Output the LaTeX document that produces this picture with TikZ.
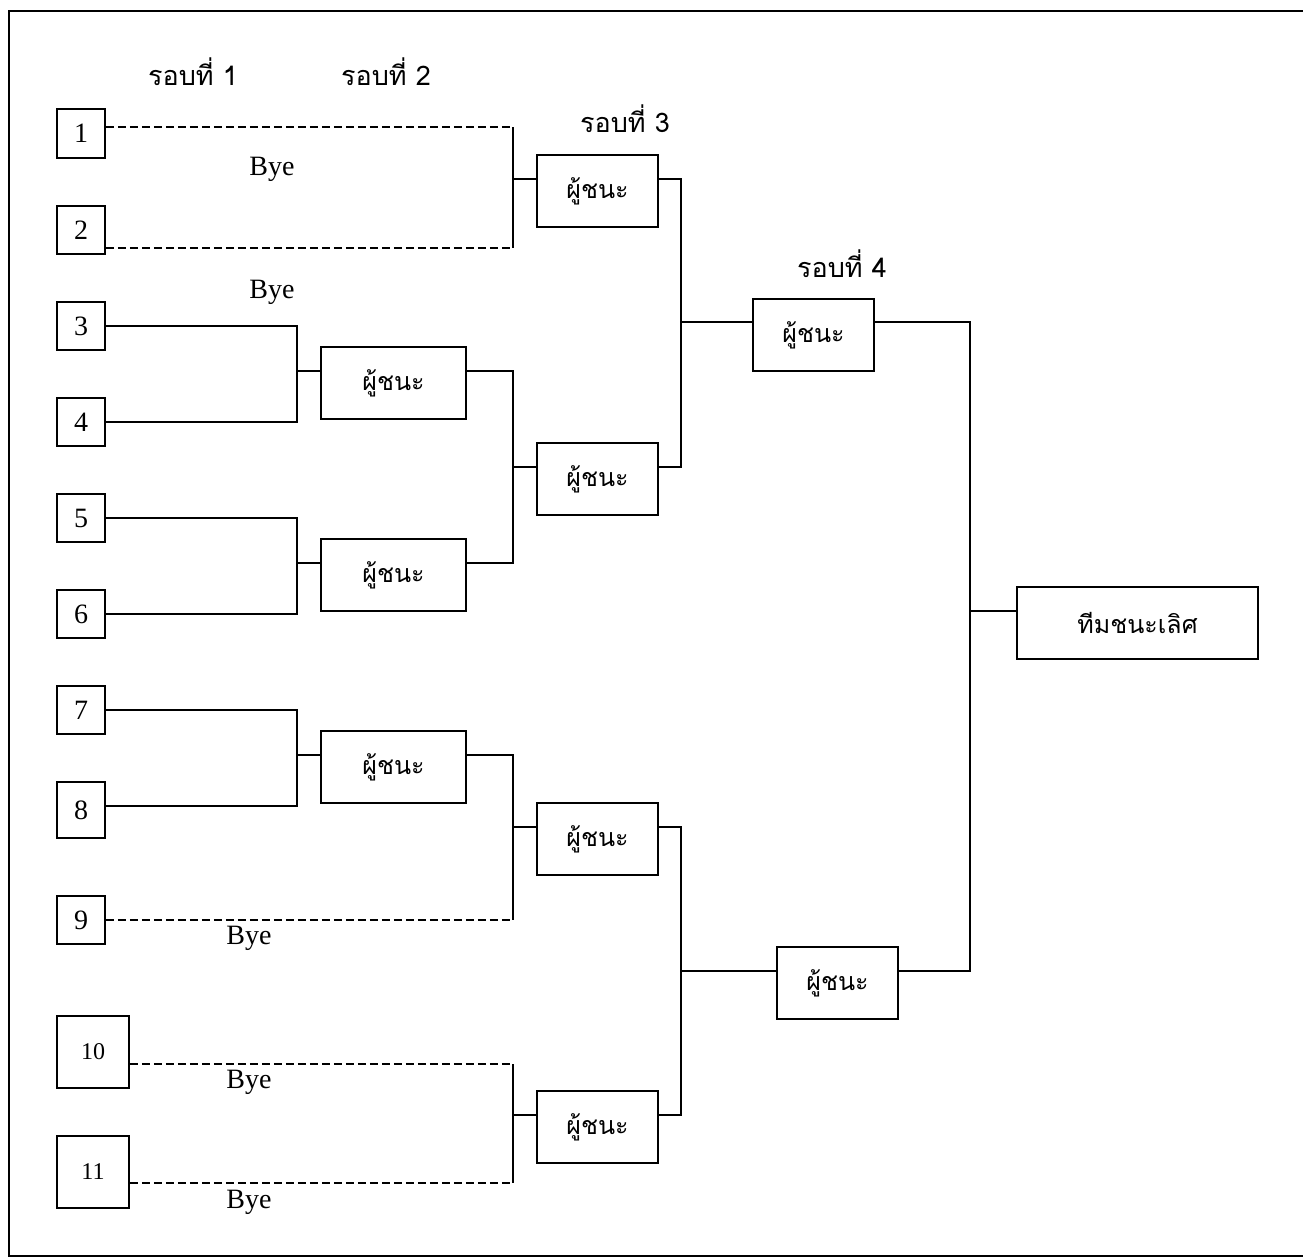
\documentclass[tikz,border=0pt]{standalone}
\usepackage{fontspec}
\setmainfont{Liberation Serif}
\newfontfamily\thai[Script=Thai]{Loma}
\begin{document}
\begin{tikzpicture}[x=1pt,y=-1pt,
  line width=1.7pt,
  box/.style={draw, rectangle, inner sep=0pt, line width=1.9pt},
  pbox/.style={box, minimum width=48pt, minimum height=48pt, font=\fontsize{28}{32}\selectfont},
  pboxw/.style={box, minimum width=72pt, minimum height=72pt, font=\fontsize{24}{28}\selectfont},
  wbox/.style={box, minimum height=72pt, font=\thai\fontsize{25}{30}\selectfont},
  hdr/.style={font=\thai\fontsize{27}{32}\selectfont, inner sep=0pt},
  byelbl/.style={font=\fontsize{28}{32}\selectfont, inner sep=0pt},
  byeline/.style={dash pattern=on 8pt off 4pt}
]
\useasboundingbox (0,0) rectangle (1303,1259);
% frame (right side outside the picture)
\draw[line width=1.9pt] (1310,11) -- (9,11) -- (9,1256) -- (1310,1256);

% headers
\node[hdr] (h1) at (193,72) {รอบที่ 1};
\node[hdr] (h2) at (386,72) {รอบที่ 2};
\node[hdr] (h3) at (625,119) {รอบที่ 3};
\node[hdr] (h4) at (842,264) {รอบที่ 4};

% players
\node[pbox, minimum height=49pt] (p1) at (81,133.5) {1};
\node[pbox] (p2) at (81,230) {2};
\node[pbox] (p3) at (81,326) {3};
\node[pbox] (p4) at (81,422) {4};
\node[pbox] (p5) at (81,518) {5};
\node[pbox] (p6) at (81,614) {6};
\node[pbox] (p7) at (81,710) {7};
\node[pbox, minimum height=56pt] (p8) at (81,810) {8};
\node[pbox] (p9) at (81,920) {9};
\node[pboxw] (p10) at (93,1052) {10};
\node[pboxw] (p11) at (93,1172) {11};

% round 2 winners
\node[wbox, minimum width=145pt] (w2a) at (393.5,383) {ผู้ชนะ};
\node[wbox, minimum width=145pt] (w2b) at (393.5,575) {ผู้ชนะ};
\node[wbox, minimum width=145pt] (w2c) at (393.5,767) {ผู้ชนะ};
% round 3 winners
\node[wbox, minimum width=121pt] (w3a) at (597.5,191) {ผู้ชนะ};
\node[wbox, minimum width=121pt] (w3b) at (597.5,479) {ผู้ชนะ};
\node[wbox, minimum width=121pt] (w3c) at (597.5,839) {ผู้ชนะ};
\node[wbox, minimum width=121pt] (w3d) at (597.5,1127) {ผู้ชนะ};
% round 4 winners
\node[wbox, minimum width=121pt] (w4a) at (813.5,335) {ผู้ชนะ};
\node[wbox, minimum width=121pt] (w4b) at (837.5,983) {ผู้ชนะ};
% champion
\node[wbox, minimum width=241pt] (champ) at (1137.5,623) {ทีมชนะเลิศ};

% bye labels
\node[byelbl] (b1) at (272,169) {Bye};
\node[byelbl] (b2) at (272,292) {Bye};
\node[byelbl] (b3) at (249,938) {Bye};
\node[byelbl] (b4) at (249,1082) {Bye};
\node[byelbl] (b5) at (249,1202) {Bye};

% junction coordinates
\coordinate (ja) at (513,0);
\coordinate (jb) at (297,0);
\coordinate (jc) at (681,0);
\coordinate (jd) at (970,0);

% round 1 -> round 3 (bye 1,2)
\draw[byeline] (p1.east |- 0,127) -- (ja |- 0,127);
\draw[byeline] (p2.east |- 0,248) -- (ja |- 0,248);
\draw (ja |- 0,127) -- (ja |- 0,248);
\draw (ja |- 0,179) -- (w3a.west |- 0,179);

% 3,4 -> w2a
\draw (p3.east) -- (jb |- p3.east) -- (jb |- p4.east) -- (p4.east);
\draw (jb |- 0,371) -- (w2a.west |- 0,371);
% 5,6 -> w2b
\draw (p5.east) -- (jb |- p5.east) -- (jb |- p6.east) -- (p6.east);
\draw (jb |- 0,563) -- (w2b.west |- 0,563);
% 7,8 -> w2c
\draw (p7.east) -- (jb |- p7.east) -- (jb |- 0,806) -- (p8.east |- 0,806);
\draw (jb |- 0,755) -- (w2c.west |- 0,755);

% w2a,w2b -> w3b
\draw (w2a.east |- 0,371) -- (ja |- 0,371) -- (ja |- 0,563) -- (w2b.east |- 0,563);
\draw (ja |- 0,467) -- (w3b.west |- 0,467);
% w2c, 9 -> w3c
\draw (w2c.east |- 0,755) -- (ja |- 0,755) -- (ja |- 0,920);
\draw[byeline] (p9.east) -- (ja |- p9.east);
\draw (ja |- 0,827) -- (w3c.west |- 0,827);
% 10, 11 -> w3d
\draw[byeline] (p10.east |- 0,1064) -- (ja |- 0,1064);
\draw[byeline] (p11.east |- 0,1183) -- (ja |- 0,1183);
\draw (ja |- 0,1064) -- (ja |- 0,1183);
\draw (ja |- 0,1115) -- (w3d.west |- 0,1115);

% w3a, w3b -> w4a
\draw (w3a.east |- 0,179) -- (jc |- 0,179) -- (jc |- 0,467) -- (w3b.east |- 0,467);
\draw (jc |- 0,322) -- (w4a.west |- 0,322);
% w3c, w3d -> w4b
\draw (w3c.east |- 0,827) -- (jc |- 0,827) -- (jc |- 0,1115) -- (w3d.east |- 0,1115);
\draw (jc |- 0,971) -- (w4b.west |- 0,971);

% w4a, w4b -> champion
\draw (w4a.east |- 0,322) -- (jd |- 0,322) -- (jd |- 0,971) -- (w4b.east |- 0,971);
\draw (jd |- 0,611) -- (champ.west |- 0,611);
\end{tikzpicture}
\end{document}
